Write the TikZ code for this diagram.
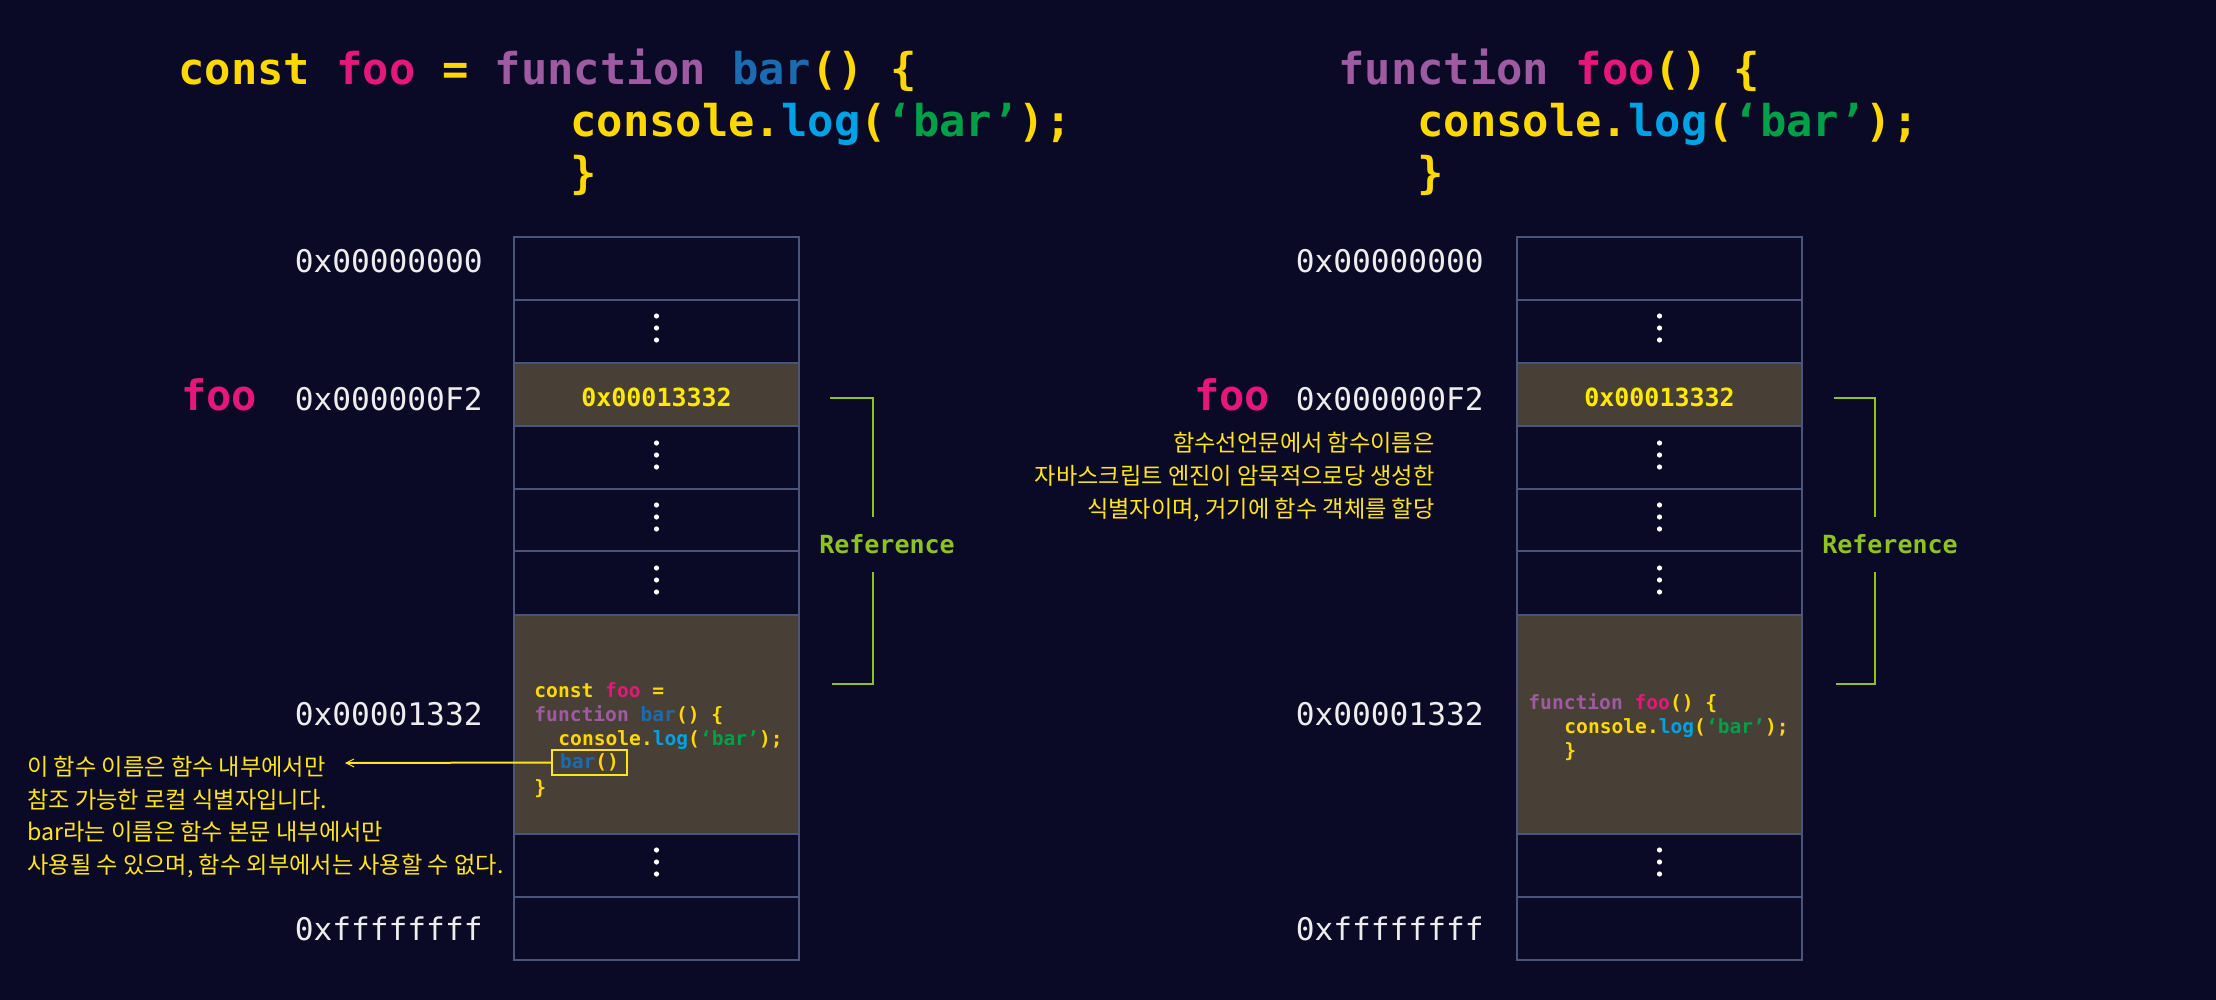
\documentclass[tikz,border=0pt]{standalone}
\usepackage{fontspec}
\setmonofont{DejaVu Sans Mono}
\newfontfamily\krfont{Noto Sans CJK KR}
\usetikzlibrary{arrows.meta}
\definecolor{bgc}{HTML}{0A0A26}
\definecolor{cellline}{HTML}{4C5579}
\definecolor{cellfill}{HTML}{483F36}
\definecolor{cyellow}{HTML}{FFD800}
\definecolor{valyellow}{HTML}{FFEA00}
\definecolor{cpink}{HTML}{E5177B}
\definecolor{cpurple}{HTML}{9E5BA1}
\definecolor{cblue}{HTML}{1B6BB0}
\definecolor{clog}{HTML}{00A2E6}
\definecolor{cgreen}{HTML}{00A048}
\definecolor{refgreen}{HTML}{8DC21F}
\definecolor{addrwhite}{HTML}{EDEDED}
\definecolor{kryellow}{HTML}{FFE51A}
\newcommand\colY[1]{\textcolor{cyellow}{#1}}
\newcommand\colPk[1]{\textcolor{cpink}{#1}}
\newcommand\colPu[1]{\textcolor{cpurple}{#1}}
\newcommand\colBl[1]{\textcolor{cblue}{#1}}
\newcommand\colLg[1]{\textcolor{clog}{#1}}
\newcommand\colGr[1]{\textcolor{cgreen}{#1}}
\tikzset{
  codebig/.style={font=\ttfamily\bfseries\fontsize{21.9}{26}\selectfont, anchor=base west, inner sep=0pt},
  codesmall/.style={font=\ttfamily\bfseries\fontsize{9.8}{12}\selectfont, anchor=base west, inner sep=0pt},
  addr/.style={font=\ttfamily\fontsize{15.6}{18}\selectfont, text=addrwhite, anchor=base east, inner sep=0pt},
  varname/.style={font=\ttfamily\bfseries\fontsize{21}{24}\selectfont, text=cpink, anchor=base west, inner sep=0pt},
  valtext/.style={font=\ttfamily\bfseries\fontsize{12.5}{14}\selectfont, text=valyellow, anchor=base, inner sep=0pt},
  reflabel/.style={font=\ttfamily\bfseries\fontsize{12.5}{14}\selectfont, text=refgreen, anchor=base, inner sep=0pt},
  krtext/.style={font=\krfont\fontsize{11.6}{14}\selectfont, text=kryellow, inner sep=0pt},
  cellline/.style={draw=cellline, line width=1.2pt},
  bracketline/.style={draw=refgreen, line width=0.75pt},
  barbox/.style={draw=kryellow, line width=0.8pt, minimum width=37.5pt, minimum height=12.5pt, inner sep=0pt, font=\ttfamily\bfseries\fontsize{9.8}{12}\selectfont},
  pointer/.style={draw=kryellow, line width=1pt, -{Straight Barb[length=4pt,width=4pt,line width=0.5pt]}}
}
\begin{document}
\begin{tikzpicture}[x=0.5pt,y=-0.5pt]
\useasboundingbox (0,0) rectangle (2216,1000);
\fill[bgc] (0,0) rectangle (2216,1000);

% memory columns
\foreach \xa/\xb in {514/799, 1517/1802} {
  \fill[cellfill] (\xa,363) rectangle (\xb,426);
  \fill[cellfill] (\xa,615) rectangle (\xb,834);
  \draw[cellline] (\xa,237) rectangle (\xb,960);
  \foreach \yy in {300,363,426,489,551,615,834,897}
    \draw[cellline] (\xa,\yy) -- (\xb,\yy);
  \foreach \cy in {328,455,517,580,862} {
    \fill[white] ({(\xa+\xb)/2},{\cy-12}) circle[radius=1.3pt];
    \fill[white] ({(\xa+\xb)/2},{\cy}) circle[radius=1.3pt];
    \fill[white] ({(\xa+\xb)/2},{\cy+12}) circle[radius=1.3pt];
  }
}

% top code, left
\node[codebig] (lc1) at (178,85) {\colY{const} \colPk{foo} \colY{=} \colPu{function} \colBl{bar}\colY{() \{}};
\node[codebig] (lc2) at (570,137) {\colY{console.}\colLg{log}\colY{(}\colGr{‘bar’}\colY{);}};
\node[codebig] (lc3) at (570,189) {\colY{\}}};

% top code, right
\node[codebig] (rc1) at (1338,85) {\colPu{function} \colPk{foo}\colY{() \{}};
\node[codebig] (rc2) at (1417,137) {\colY{console.}\colLg{log}\colY{(}\colGr{‘bar’}\colY{);}};
\node[codebig] (rc3) at (1417,189) {\colY{\}}};

% address labels, left
\node[addr] (la1) at (483,272) {0x00000000};
\node[addr] (la2) at (483,410) {0x000000F2};
\node[addr] (la3) at (483,725) {0x00001332};
\node[addr] (la4) at (483,940) {0xffffffff};
\node[varname] (lfoo) at (181,410) {foo};

% address labels, right
\node[addr] (ra1) at (1484,272) {0x00000000};
\node[addr] (ra2) at (1484,410) {0x000000F2};
\node[addr] (ra3) at (1484,725) {0x00001332};
\node[addr] (ra4) at (1484,940) {0xffffffff};
\node[varname] (rfoo) at (1194,410) {foo};

% cell values
\node[valtext] (lval) at (656.5,406) {0x00013332};
\node[valtext] (rval) at (1659.5,406) {0x00013332};

% code inside left heap cell
\node[codesmall] (lh1) at (534,697) {\colY{const} \colPk{foo} \colY{=}};
\node[codesmall] (lh2) at (534,721) {\colPu{function} \colBl{bar}\colY{() \{}};
\node[codesmall] (lh3) at (558,745) {\colY{console.}\colLg{log}\colY{(}\colGr{‘bar’}\colY{);}};
\node[barbox] (barbox) at (589.5,762.5) {\colBl{bar}\colY{()}};
\node[codesmall] (lh5) at (534,794) {\colY{\}}};

% code inside right heap cell
\node[codesmall] (rh1) at (1528,709) {\colPu{function} \colPk{foo}\colY{() \{}};
\node[codesmall] (rh2) at (1564,733) {\colY{console.}\colLg{log}\colY{(}\colGr{‘bar’}\colY{);}};
\node[codesmall] (rh3) at (1564,757) {\colY{\}}};

% reference brackets
\node[reflabel] (lref) at (887,553) {Reference};
\draw[bracketline] (830,398) -- (873,398) -- (873,517);
\draw[bracketline] (873,572) -- (873,684) -- (832,684);
\node[reflabel] (rref) at (1890,553) {Reference};
\draw[bracketline] (1834,398) -- (1875,398) -- (1875,517);
\draw[bracketline] (1875,572) -- (1875,684) -- (1836,684);

% korean notes, left
\node[krtext, anchor=base west] (kl1) at (27,775) {이 함수 이름은 함수 내부에서만};
\node[krtext, anchor=base west] (kl2) at (27,808) {참조 가능한 로컬 식별자입니다.};
\node[krtext, anchor=base west] (kl3) at (27,840) {bar라는 이름은 함수 본문 내부에서만};
\node[krtext, anchor=base west] (kl4) at (27,873) {사용될 수 있으며, 함수 외부에서는 사용할 수 없다.};
\coordinate (tip) at (345,763);
\draw[pointer] (barbox.west) -- (tip);

% korean notes, right
\node[krtext, anchor=base east] (kr1) at (1435,451) {함수선언문에서 함수이름은};
\node[krtext, anchor=base east] (kr2) at (1435,484) {자바스크립트 엔진이 암묵적으로당 생성한};
\node[krtext, anchor=base east] (kr3) at (1435,517) {식별자이며, 거기에 함수 객체를 할당};
\end{tikzpicture}
\end{document}
